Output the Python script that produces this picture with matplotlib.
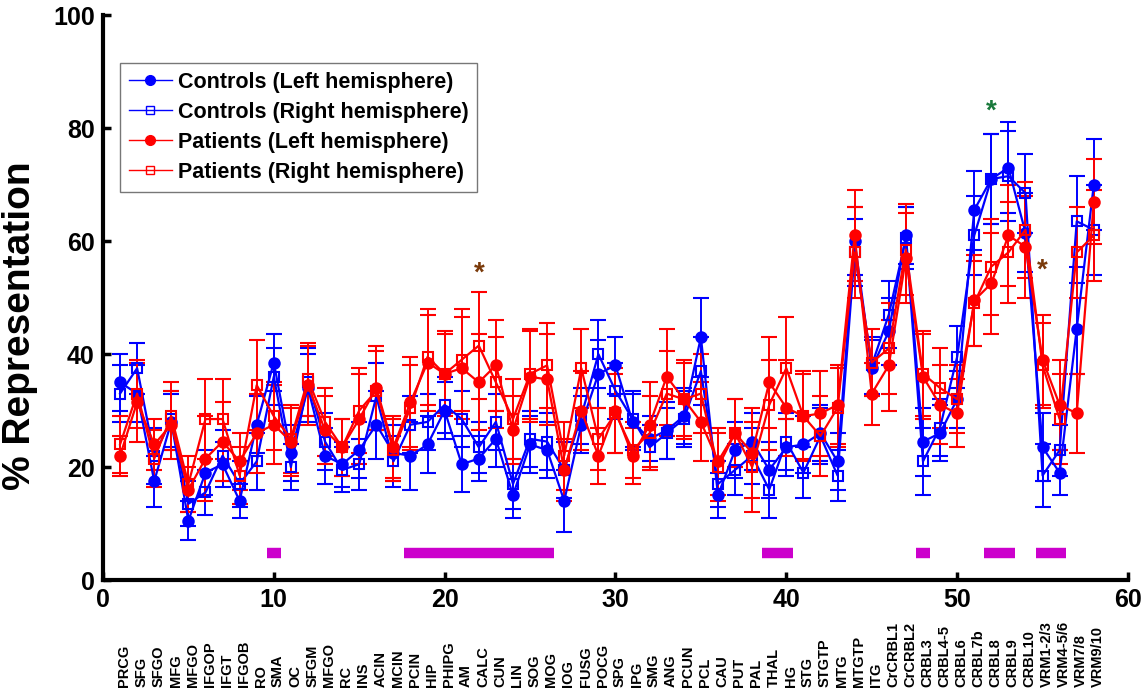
import numpy as np
import matplotlib
matplotlib.use("Agg")
import matplotlib.pyplot as plt
from matplotlib.lines import Line2D
from matplotlib.transforms import blended_transform_factory

plt.rcParams['font.family'] = ['Liberation Sans', 'DejaVu Sans']

# Region names along the x axis (index 1..58)
regions = [
    "PRCG", "SFG", "SFGO", "MFG", "MFGO", "IFGOP", "IFGT", "IFGOB", "RO", "SMA",
    "OC", "SFGM", "MFGO", "RC", "INS", "ACIN", "MCIN", "PCIN", "HIP", "PHIPG",
    "AM", "CALC", "CUN", "LIN", "SOG", "MOG", "IOG", "FUSG", "POCG", "SPG",
    "IPG", "SMG", "ANG", "PCUN", "PCL", "CAU", "PUT", "PAL", "THAL", "HG",
    "STG", "STGTP", "MTG", "MTGTP", "ITG", "CrCRBL1", "CrCRBL2", "CRBL3", "CRBL4-5", "CRBL6",
    "CRBL7b", "CRBL8", "CRBL9", "CRBL10", "VRM1-2/3", "VRM4-5/6", "VRM7/8", "VRM9/10",
]

# % representation
ctrl_left = [35, 33, 17.5, 28, 10.5, 19, 20.5, 14, 27.5, 38.5,
             22.5, 34, 22, 20.5, 23, 27.5, 22.5, 22, 24, 30,
             20.5, 21.5, 25, 15, 24, 23, 14, 27.5, 36.5, 38,
             28, 25, 26.5, 29, 43, 15, 23, 24.5, 19.5, 23.5,
             24, 26, 21, 60, 37.5, 44, 61, 24.5, 26, 32,
             65.5, 71, 73, 61.5, 23.5, 19, 44.5, 70]
ctrl_right = [33, 37.5, 22, 28.5, 13.5, 15.5, 22, 17, 21, 36,
              20, 35, 24.5, 19.5, 20.5, 32.5, 21, 27.5, 28, 31,
              28.5, 23.5, 28, 17, 25, 24.5, 19.5, 29, 40, 33.5,
              28.5, 23.5, 26, 28.5, 37, 17, 19.5, 22, 16, 24.5,
              19, 25.5, 18.5, 58, 38, 47, 60.5, 21, 27, 39.5,
              61, 71, 71.5, 68.5, 18.5, 23, 63.5, 62]
pat_left = [22, 31.5, 24, 27.5, 16, 21.5, 24.5, 21, 26, 27.5,
            24.5, 34.5, 26.5, 23.5, 28.5, 34, 23.5, 31.5, 38.5, 36.5,
            37.5, 35, 38, 26.5, 36, 35.5, 19.5, 30, 22, 30,
            22, 27.5, 36, 32, 28, 21, 26, 22.5, 35, 30.5,
            29, 29.5, 31, 61, 33, 38, 57, 36, 31, 29.5,
            49.5, 52.5, 61, 59, 39, 31, 29.5, 67]
pat_right = [24, 33, 21.5, 29, 17, 28.5, 28.5, 18.5, 34.5, 29,
             25, 35.5, 28, 23.5, 30, 33.5, 23, 30.5, 39.5, 36.5,
             39, 41.5, 35, 28.5, 36.5, 38, 22, 37.5, 25, 29.5,
             23, 26, 33, 32, 33, 20, 26, 20, 31, 37.5,
             29, 25.5, 30.5, 58, 38.5, 41, 58.5, 36.5, 34, 32,
             49, 55.5, 58, 62, 38, 28.5, 58, 61]

# error bar half-widths
ctrl_left_err = [5, 5, 4.5, 5, 3.5, 4, 4, 3, 5, 5,
                 5, 6, 5, 4, 5, 6, 5, 6, 5, 5,
                 5, 4, 5, 4, 5, 5, 5.5, 5, 6, 5,
                 5, 4, 5, 5, 7, 4, 5, 5, 5, 5,
                 5, 5, 5, 6, 5, 6, 5, 6, 5, 5,
                 7, 8, 8, 7, 6, 4, 8, 8]
ctrl_right_err = [5, 4.5, 5, 5, 4, 4, 4.5, 4, 5, 5,
                  4, 6, 5, 4, 4.5, 6, 4.5, 5, 5, 5,
                  5, 4.5, 5, 4.5, 5, 5, 5, 5, 6, 5,
                  5, 4, 4.5, 5, 6, 4, 4.5, 5, 5, 5,
                  4.5, 5, 4.5, 6, 5, 6, 5.5, 6, 5, 5.5,
                  7, 8, 8, 7, 5.5, 4.5, 8, 8]
pat_left_err = [3.5, 7, 4.5, 6, 4, 7.5, 7, 5, 7, 7,
                6, 7, 6, 5, 8, 7.5, 5.5, 8, 8.5, 7.5,
                9, 8.5, 8, 6, 8, 8, 5.5, 7, 5, 7.5,
                5, 7.5, 8.5, 7, 7, 6, 6, 8, 8, 8.5,
                8, 7.5, 7, 8, 5.5, 8, 8, 7.5, 7, 6,
                8, 9, 9, 9, 8, 8, 7, 7.5]
pat_right_err = [5, 6, 5, 6, 5, 7, 7, 5, 8, 6,
                 6, 6.5, 6, 5, 7.5, 7, 5.5, 7.5, 8.5, 7,
                 9, 9.5, 8, 7, 8, 7.5, 6, 7, 5.5, 7,
                 5, 6.5, 7.5, 6.5, 7, 6, 6, 8, 8, 9,
                 7.5, 7, 7, 8, 6, 8, 8, 7.5, 7, 6,
                 7.5, 8.5, 9, 8.5, 7.5, 8, 8, 8]

# magenta significance bars: first and last region of each run
sig_start = [10, 18, 39, 48, 52, 55]
sig_end = [10, 26, 40, 48, 53, 56]
sig_level = 4.8

# asterisks
star_x = [22, 52, 55]
star_y = [54.3, 83, 54.8]
star_colors = ["#7A3A0A", "#1A7A3C", "#7A3A0A"]

x = np.arange(1, len(regions) + 1)

fig = plt.figure(figsize=(11.44, 6.9), dpi=100)
ax = fig.add_axes([0.090, 0.1594, 0.896, 0.8186])

series = [
    (ctrl_left, ctrl_left_err, "#0000FF", "o", "#0000FF", "Controls (Left hemisphere)"),
    (ctrl_right, ctrl_right_err, "#0000FF", "s", "none", "Controls (Right hemisphere)"),
    (pat_left, pat_left_err, "#FF0000", "o", "#FF0000", "Patients (Left hemisphere)"),
    (pat_right, pat_right_err, "#FF0000", "s", "none", "Patients (Right hemisphere)"),
]
handles = []
for vals, err, col, mk, mfc, lab in series:
    ax.errorbar(x, vals, yerr=err, color=col, marker=mk, mfc=mfc, mec=col,
                ms=7.5 if mk == "o" else 7, mew=1.5, lw=1.6, elinewidth=1.4,
                capsize=6, capthick=1.4)
    handles.append(Line2D([], [], color=col, marker=mk, mfc=mfc, mec=col, lw=1.0,
                          ms=7 if mk == "o" else 6, mew=1.0, label=lab))

for s, e in zip(sig_start, sig_end):
    ax.hlines(sig_level, s - 0.4, e + 0.4, color="#CC00CC", lw=7.5)

for sx, sy, sc in zip(star_x, star_y, star_colors):
    ax.text(sx, sy, "*", color=sc, fontsize=20, fontweight="bold", ha="center", va="center")

ax.set_xlim(0, 60)
ax.set_ylim(0, 100)
ax.set_xticks(np.arange(0, 61, 10))
ax.set_yticks(np.arange(0, 101, 20))
for lbl in ax.get_xticklabels() + ax.get_yticklabels():
    lbl.set_fontweight("bold")
    lbl.set_fontsize(18)
ax.tick_params(direction="in", length=6, width=2.5, pad=6)
ax.spines["top"].set_visible(False)
ax.spines["right"].set_visible(False)
ax.spines["left"].set_linewidth(3)
ax.spines["bottom"].set_linewidth(3)
ax.set_ylabel("% Representation", fontsize=28, fontweight="bold")
ax.yaxis.set_label_coords(-0.063, 0.45)

trans = blended_transform_factory(ax.transData, fig.transFigure)
for xi, name in zip(x, regions):
    ax.text(xi + 0.25, 0.004, name, transform=trans, rotation=90, ha="center", va="bottom",
            fontsize=10.5, fontweight="bold", clip_on=False)

leg = ax.legend(handles=handles, loc="upper left", bbox_to_anchor=(0.0166, 0.915),
                borderaxespad=0, frameon=True, fancybox=False, edgecolor="#555555",
                prop={"weight": "bold", "size": 15.5}, handlelength=2.0,
                borderpad=0.4, labelspacing=0.42, handletextpad=0.3)
leg.get_frame().set_linewidth(1.0)

fig.savefig("out.png", dpi=100)
